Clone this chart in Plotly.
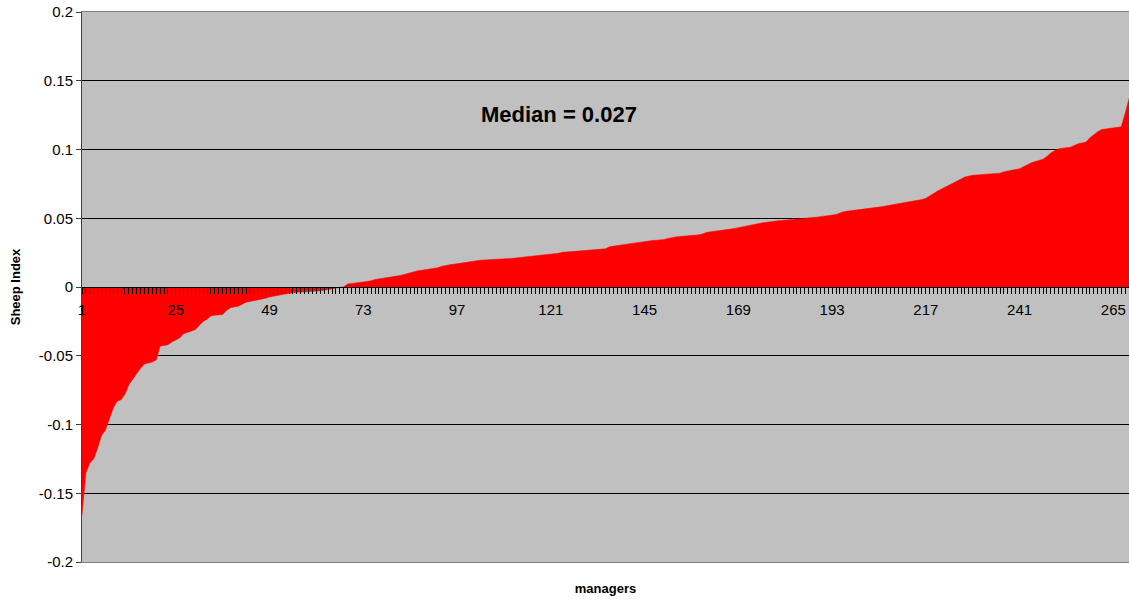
import plotly.graph_objects as go

# Sheep Index per manager, sorted ascending
neg_part = [
    -0.166, -0.135, -0.128, -0.125, -0.117, -0.108, -0.104, -0.096, -0.088, -0.083,
    -0.082, -0.078, -0.071, -0.067, -0.063, -0.059, -0.056, -0.0555, -0.0545, -0.053,
    -0.043, -0.0425, -0.042, -0.040, -0.0385, -0.037, -0.034, -0.033, -0.0325, -0.031,
    -0.028, -0.025, -0.0235, -0.021, -0.0205, -0.0204, -0.020, -0.017, -0.015, -0.0145,
    -0.014, -0.0125, -0.011, -0.0105, -0.010, -0.009, -0.0088, -0.0082, -0.0072, -0.0065,
    -0.006, -0.0056, -0.005, -0.0045, -0.0041, -0.0039, -0.0037, -0.0036, -0.0035, -0.0034,
    -0.0032, -0.0028, -0.0023, -0.0019, -0.0014, -0.0009, -0.0005,
]
mid_part = [
    0.0002, 0.0022, 0.0027, 0.0030, 0.0033, 0.0036, 0.0039, 0.0045, 0.0054, 0.0058,
    0.0062, 0.0066, 0.0071, 0.0076, 0.0082, 0.0088, 0.0095, 0.0105, 0.0114, 0.0118,
    0.0122, 0.0126, 0.0130, 0.0134, 0.0140, 0.0150, 0.0158, 0.0161, 0.0165, 0.0170,
    0.0175, 0.0180, 0.0184, 0.0188, 0.0192, 0.0195, 0.0197, 0.0198, 0.0200, 0.0201,
    0.0203, 0.0204, 0.0205, 0.0208, 0.0211, 0.0214, 0.0217, 0.0220, 0.0222, 0.0225,
    0.0228, 0.0231, 0.0234, 0.0237, 0.0240, 0.0246, 0.0252, 0.0254, 0.0256, 0.0258,
    0.0261, 0.0264, 0.0267, 0.0270, 0.0272, 0.0274, 0.0276, 0.0278, 0.0292, 0.0298,
    0.0302, 0.0306, 0.0310, 0.0314, 0.0320, 0.0326, 0.0330, 0.0333, 0.0336, 0.0338,
    0.0340, 0.0342, 0.0345, 0.0353, 0.0361, 0.0364, 0.0367, 0.0369, 0.0372, 0.0375,
    0.0377, 0.0380, 0.0388, 0.0398, 0.0402, 0.0405, 0.0408, 0.0411, 0.0416, 0.0421,
    0.0426, 0.0431, 0.0435, 0.0440, 0.0446, 0.0452, 0.0460, 0.0466, 0.0471, 0.0475,
    0.0478, 0.0481, 0.0484, 0.0486, 0.0488, 0.0491, 0.0494, 0.0497, 0.0500, 0.0502,
    0.0505, 0.0508, 0.0511, 0.0514, 0.0518, 0.0522, 0.0527,
]
high_part = [
    0.0538, 0.0548, 0.0552, 0.0555, 0.0558, 0.0561, 0.0564, 0.0567, 0.0571, 0.0576,
    0.0581, 0.0586, 0.0592, 0.0598, 0.0604, 0.0609, 0.0613, 0.0617, 0.0621, 0.0625,
    0.0630, 0.0636, 0.0645, 0.0660, 0.0680, 0.0698, 0.0712, 0.0726, 0.0740, 0.0752,
    0.0765, 0.0785, 0.0800, 0.0808, 0.0813, 0.0815, 0.0817, 0.0818, 0.0820, 0.0821,
    0.0822, 0.0828, 0.0838, 0.0843, 0.0848, 0.0854, 0.0860, 0.0875, 0.0890, 0.0903,
    0.0913, 0.0920, 0.0930, 0.0950, 0.0975, 0.0992, 0.1005, 0.1010, 0.1013, 0.1017,
    0.1030, 0.1042, 0.1048, 0.1055, 0.1085, 0.1110, 0.1130, 0.1145, 0.1150, 0.1153,
    0.1156, 0.1160, 0.1165, 0.1260, 0.1370,
]
sheep_index = neg_part + mid_part + high_part
managers = list(range(1, len(sheep_index) + 1))

y_ticks = [0.2, 0.15, 0.1, 0.05, 0, -0.05, -0.1, -0.15, -0.2]
y_tick_text = ["0.2", "0.15", "0.1", "0.05", "0", "-0.05", "-0.1", "-0.15", "-0.2"]
median_label = "Median = 0.027"

FONT = "Arial, Liberation Sans, sans-serif"

fig = go.Figure()
fig.add_trace(go.Scatter(
    x=managers, y=sheep_index, mode="lines", fill="tozeroy",
    fillcolor="#FF0000", line=dict(color="#FF0000", width=0.5),
    hoverinfo="x+y", showlegend=False,
))
# invisible companion trace so the bottom frame axis (with its title) is drawn
fig.add_trace(go.Scatter(
    x=managers, y=sheep_index, xaxis="x2", mode="lines",
    line=dict(width=0), opacity=0, hoverinfo="skip", showlegend=False,
))

fig.update_layout(
    width=1129, height=603,
    margin=dict(l=82, r=0, t=12, b=41),
    paper_bgcolor="white", plot_bgcolor="#C0C0C0",
    font=dict(family=FONT, size=15, color="black"),
    xaxis=dict(
        range=[1, len(managers)], anchor="free", position=0.5,
        showgrid=False, zeroline=False, showline=True, linecolor="black", linewidth=1,
        tick0=1, dtick=24, ticks="outside", ticklen=6, tickcolor="black",
        minor=dict(dtick=1, tick0=1, ticks="outside", ticklen=6, tickcolor="black", showgrid=False),
        tickfont=dict(family=FONT, size=15, color="black"),
        ticklabelstandoff=3, ticklabeloverflow="allow",
    ),
    xaxis2=dict(
        range=[1, len(managers)], overlaying="x", anchor="y", side="bottom",
        showgrid=False, zeroline=False, showline=True, mirror=True,
        linecolor="#808080", linewidth=1, ticks="", showticklabels=False,
        title=dict(text="<b>managers</b>", font=dict(family=FONT, size=13, color="black"), standoff=21),
    ),
    yaxis=dict(
        range=[-0.2, 0.2], tickvals=y_ticks, ticktext=y_tick_text,
        showgrid=True, gridcolor="black", gridwidth=1, zeroline=False,
        showline=True, linecolor="#404040", linewidth=1,
        ticks="outside", ticklen=5, tickcolor="#404040",
        tickfont=dict(family=FONT, size=15, color="black"),
        title=dict(text="<b>Sheep Index</b>", font=dict(family=FONT, size=13, color="black"), standoff=15),
    ),
    annotations=[dict(
        text="<b>" + median_label + "</b>", xref="paper", yref="paper",
        x=0.4556, y=0.8145, xanchor="center", yanchor="middle", showarrow=False,
        font=dict(family=FONT, size=22, color="black"),
    )],
)

fig.write_html(
    "out.html",
    config={"displayModeBar": False},
    post_script="document.body.style.margin='0';document.body.style.overflow='hidden';",
)
